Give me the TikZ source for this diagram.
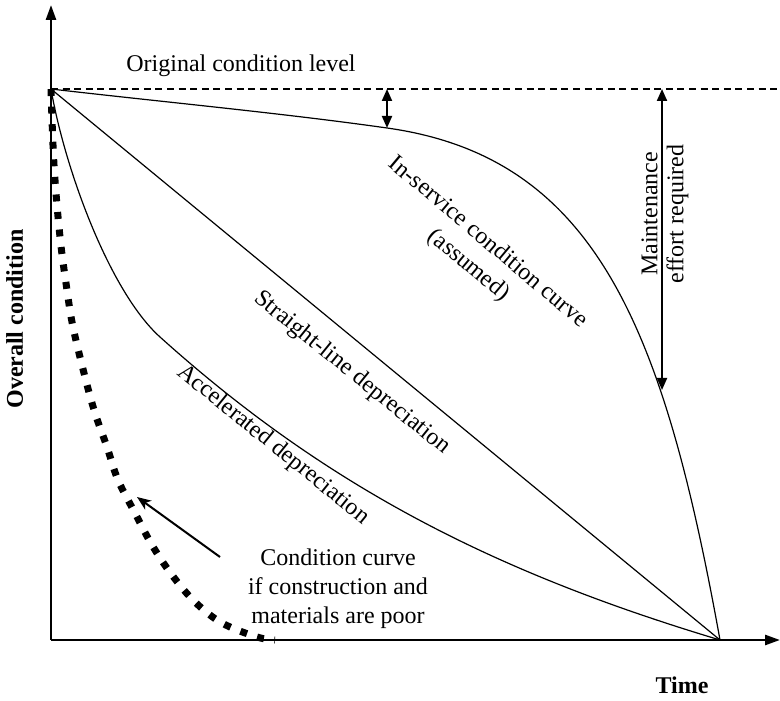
\documentclass[tikz,border=0pt]{standalone}
\usepackage{fontspec}
\setmainfont{Liberation Serif}
\usetikzlibrary{arrows.meta}

\begin{document}
\begin{tikzpicture}[x=0.5pt,y=0.5pt,
    font=\fontsize{12}{14.25}\selectfont,
    axis/.style={line width=1.3pt,-{Triangle[length=7.5pt,width=5pt]}},
    curve/.style={line width=0.6pt},
    poorcurve/.style={line width=3.5pt,dash pattern=on 3.5pt off 5.3pt},
    gaparrow/.style={line width=1pt,{Triangle[length=6pt,width=5pt]}-{Triangle[length=6pt,width=5pt]}},
    lbl/.style={inner sep=0pt,align=center}]
    \useasboundingbox (-51,-60) rectangle (729,640);
    % axes
    \coordinate (O) at (0,0);
    \coordinate (ytop) at (0,635);
    \coordinate (xend) at (729,0);
    \coordinate (start) at (0,551);
    \coordinate (end) at (669,0);
    \draw[axis] (O) -- (ytop);
    \draw[axis] (O) -- (xend);
    \draw[line width=0.65pt,dash pattern=on 3.5pt off 2.3pt] (start) -- (729,551);% original level
    % curves
    \draw[curve] (start) .. controls (112,538) and (230,527) .. (336,512)
        .. controls (546,482.6) and (613,310) .. (end);% in-service
    \draw[curve] (start) -- (end);
    \draw[curve] (start) .. controls (14,470) and (59,348) .. (109,303)
        .. controls (279,150) and (449,66) .. (end);% accelerated
    \draw[poorcurve] plot[smooth,tension=0.6] coordinates {(0,551) (3,475) (9,403) (16,350) (22,313) (34,263) (44,227) (56,193) (67,160) (84,127) (101,95) (121,65) (144,38) (171,17) (206,3) (224,0)};
    % maintenance gaps
    \coordinate (gapA1) at (336,551);
    \coordinate (gapA2) at (336,512);
    \coordinate (gapB1) at (611,551);
    \coordinate (gapB2) at (611,250);
    \draw[gaparrow] (gapA1) -- (gapA2);
    \draw[gaparrow] (gapB1) -- (gapB2);
    % labels
    \node[lbl,anchor=base] (orig) at (190,568) {Original condition level};
    \node[lbl,anchor=base,font=\fontsize{12}{14}\selectfont\bfseries] (time) at (631,-53) {Time};
    \node[lbl,anchor=base,rotate=90,font=\fontsize{12}{14}\selectfont\bfseries] (ycond) at (-28,321) {Overall condition};
    \node[lbl,rotate=90,font=\fontsize{12}{13}\selectfont] (maint) at (614,426) {Maintenance\\effort required};
    \node[lbl,rotate=-40,font=\fontsize{12}{15}\selectfont] (inserv) at (427,386) {In-service condition curve\\(assumed)};
    \node[lbl,rotate=-39] (straight) at (301,267) {Straight-line depreciation};
    \node[lbl,rotate=-39] (accel) at (222,195) {Accelerated depreciation};
    \node[lbl,font=\fontsize{12}{14.5}\selectfont] (poor) at (287,51) {Condition curve\\if construction and\\materials are poor};
    \coordinate (ptail) at (169,83);
    \coordinate (phead) at (86,143);
    \draw[line width=1pt,-{Stealth[length=7pt,width=5.5pt,inset=2pt]}] (ptail) -- (phead);
\end{tikzpicture}
\end{document}
